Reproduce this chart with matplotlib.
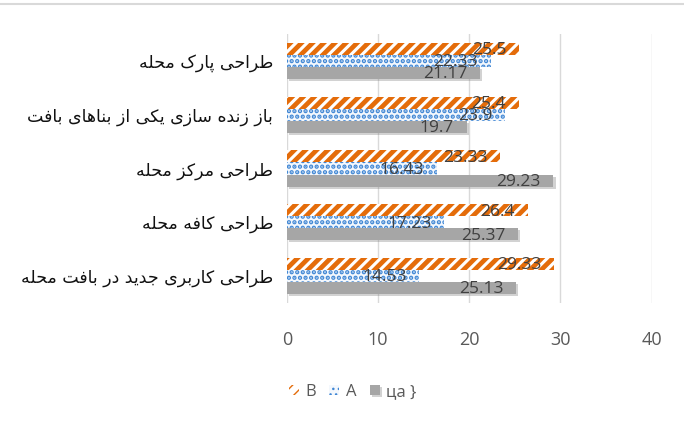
import matplotlib
matplotlib.use("Agg")
import matplotlib.pyplot as plt
import matplotlib.patheffects as pe
import numpy as np

categories = [
    "طراحی پارک محله",
    "باز زنده سازی یکی از بناهای بافت",
    "طراحی مرکز محله",
    "طراحی کافه محله",
    "طراحی کاربری جدید در بافت محله",
]
series_b = [25.5, 25.4, 23.33, 26.4, 29.33]
series_a = [22.33, 23.9, 16.43, 17.23, 14.53]
series_c = [21.17, 19.7, 29.23, 25.37, 25.13]
series_names = ["B", "A", "ца }"]
x_ticks = [0, 10, 20, 30, 40]

# presentation forms: isolated, final, initial, medial
FORMS = {
    "ا": ("\uFE8D", "\uFE8E"),
    "ب": ("\uFE8F", "\uFE90", "\uFE91", "\uFE92"),
    "پ": ("\uFB56", "\uFB57", "\uFB58", "\uFB59"),
    "ت": ("\uFE95", "\uFE96", "\uFE97", "\uFE98"),
    "ج": ("\uFE9D", "\uFE9E", "\uFE9F", "\uFEA0"),
    "ح": ("\uFEA1", "\uFEA2", "\uFEA3", "\uFEA4"),
    "د": ("\uFEA9", "\uFEAA"),
    "ر": ("\uFEAD", "\uFEAE"),
    "ز": ("\uFEAF", "\uFEB0"),
    "س": ("\uFEB1", "\uFEB2", "\uFEB3", "\uFEB4"),
    "ط": ("\uFEC1", "\uFEC2", "\uFEC3", "\uFEC4"),
    "ف": ("\uFED1", "\uFED2", "\uFED3", "\uFED4"),
    "ک": ("\uFB8E", "\uFB8F", "\uFB90", "\uFB91"),
    "ل": ("\uFEDD", "\uFEDE", "\uFEDF", "\uFEE0"),
    "م": ("\uFEE1", "\uFEE2", "\uFEE3", "\uFEE4"),
    "ن": ("\uFEE5", "\uFEE6", "\uFEE7", "\uFEE8"),
    "ه": ("\uFEE9", "\uFEEA", "\uFEEB", "\uFEEC"),
    "و": ("\uFEED", "\uFEEE"),
    "ی": ("\uFBFC", "\uFBFD", "\uFBFE", "\uFBFF"),
}


def shape(text):
    out = []
    for i, ch in enumerate(text):
        if ch not in FORMS:
            out.append(ch)
            continue
        prev = text[i - 1] if i > 0 else ""
        nxt = text[i + 1] if i + 1 < len(text) else ""
        join_prev = prev in FORMS and len(FORMS[prev]) == 4
        join_next = nxt in FORMS and len(FORMS[ch]) == 4
        f = FORMS[ch]
        if join_prev and join_next:
            out.append(f[3])
        elif join_prev:
            out.append(f[1])
        elif join_next:
            out.append(f[2])
        else:
            out.append(f[0])
    return "".join(out)[::-1]


fig = plt.figure(figsize=(6.84, 4.26), dpi=100)
ax = fig.add_axes([0.4196, 0.289, 0.533, 0.631])

y = np.arange(len(categories))
h = 0.225
text_color = "#404040"

with plt.rc_context({"hatch.linewidth": 3.4}):
    bars_b = ax.barh(y - h, series_b, height=h, color="white", edgecolor="#e46c0a",
                     hatch="///", linewidth=0, label=series_names[0], zorder=3)
with plt.rc_context({"hatch.linewidth": 2.2}):
    bars_a = ax.barh(y, series_a, height=h, color="#f4f8fd", edgecolor="#3f86d4",
                     hatch="...", linewidth=0, label=series_names[1], zorder=3)
bars_c = ax.barh(y + h, series_c, height=h, color="#a6a6a6", linewidth=0,
                 label=series_names[2], zorder=3)
for b in bars_c:
    b.set_path_effects([pe.SimplePatchShadow(offset=(1.5, -1.5), alpha=0.35,
                                             shadow_rgbFace="#7f7f7f"), pe.Normal()])

for bars, vals in [(bars_b, series_b), (bars_a, series_a), (bars_c, series_c)]:
    for b, v in zip(bars, vals):
        ax.annotate(f"{v:g}", (v, b.get_y() + b.get_height() / 2),
                    xytext=(-9, -1), textcoords="offset points",
                    ha="right", va="center", fontsize=12.5, color=text_color,
                    family="Open Sans", zorder=5)

ax.set_xlim(0, 40)
ax.set_ylim(len(categories) - 0.5, -0.5)
ax.set_xticks(x_ticks)
ax.set_xticklabels([str(t) for t in x_ticks], fontsize=13, color="#595959",
                   family="Open Sans")
ax.set_yticks(y)
ax.set_yticklabels([shape(c) for c in categories], fontsize=12.5,
                   family="DejaVu Sans", color="#111111")
ax.tick_params(axis="x", length=0, pad=20)
ax.tick_params(axis="y", length=0, pad=10)
ax.grid(axis="x", color="#d9d9d9", linewidth=1, zorder=0)
for s in ax.spines.values():
    s.set_visible(False)

leg = fig.legend(handles=[bars_b, bars_a, bars_c], labels=series_names,
                 loc="center left", bbox_to_anchor=(0.4, 0.08), ncol=3,
                 frameon=False, handlelength=0.6, handleheight=0.6,
                 handletextpad=0.4, columnspacing=0.8,
                 prop={"family": "Open Sans", "size": 12})
for t in leg.get_texts():
    t.set_color("#595959")

# thin frame line at top of chart area
fig.add_artist(plt.Line2D([0.0, 1.0], [0.99, 0.99], color="#d9d9d9", linewidth=1.5))

fig.savefig("out.png", dpi=100)
